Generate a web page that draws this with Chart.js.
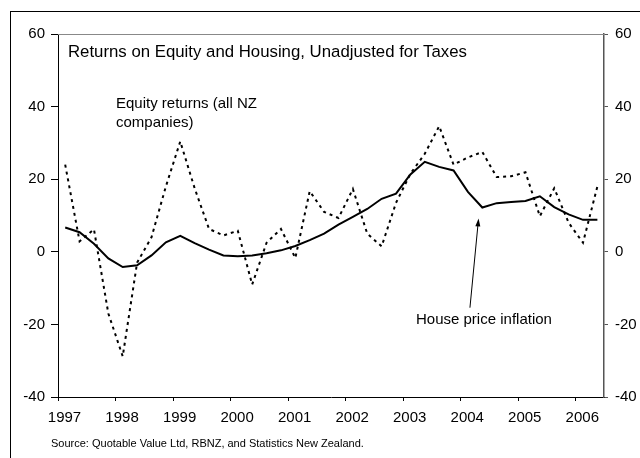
<!DOCTYPE html>
<html>
<head>
<meta charset="utf-8">
<script src="https://cdn.jsdelivr.net/npm/chart.js@4/dist/chart.umd.min.js"></script>
<style>
    body { margin: 0; background: #fff; }
    #wrap { position: relative; width: 640px; height: 458px; overflow: hidden; font-family: "Liberation Sans", Arial, sans-serif; color: #000; }
    #frame { position: absolute; left: 10px; top: 11px; width: 700px; height: 500px; border: 1px solid #000; box-sizing: border-box; }
    canvas { position: absolute; left: 0; top: 0; }
    .txt { position: absolute; line-height: 1; white-space: nowrap; }
</style>
</head>
<body>
<div id="wrap">
    <div id="frame"></div>
    <canvas id="chart" width="640" height="458"></canvas>
    <div class="txt" style="left:68px; top:43.6px; font-size:16.8px;">Returns on Equity and Housing, Unadjusted for Taxes</div>
    <div class="txt" style="left:116px; top:92.8px; font-size:15px; line-height:19px;">Equity returns (all NZ<br>companies)</div>
    <div class="txt" style="left:416px; top:311.2px; font-size:15px;">House price inflation</div>
    <div class="txt" style="left:51px; top:437.8px; font-size:11px;">Source: Quotable Value Ltd, RBNZ, and Statistics New Zealand.</div>
</div>
<script>
// quarters, 1997Q1 .. 2006Q2
const quarters = [
    "1997Q1", "1997Q2", "1997Q3", "1997Q4", "1998Q1", "1998Q2", "1998Q3", "1998Q4",
    "1999Q1", "1999Q2", "1999Q3", "1999Q4", "2000Q1", "2000Q2", "2000Q3", "2000Q4",
    "2001Q1", "2001Q2", "2001Q3", "2001Q4", "2002Q1", "2002Q2", "2002Q3", "2002Q4",
    "2003Q1", "2003Q2", "2003Q3", "2003Q4", "2004Q1", "2004Q2", "2004Q3", "2004Q4",
    "2005Q1", "2005Q2", "2005Q3", "2005Q4", "2006Q1", "2006Q2",
];

// annual % change
const housePrice = [
    6.7, 5.4, 2.2, -1.8, -4.2, -3.7, -1.0, 2.6, 4.4, 2.4, 0.6, -1.0, -1.2, -1.0, -0.4, 0.4,
    1.6, 3.2, 5.0, 7.5, 9.6, 11.8, 14.6, 16.0, 21.3, 24.8, 23.4, 22.4, 16.5, 12.2, 13.4, 13.7,
    14.0, 15.3, 12.3, 10.3, 8.8, 8.8,
];
const equityReturns = [
    24.0, 2.9, 6.2, -17.0, -28.8, -3.0, 4.0, 18.0, 30.4, 17.5, 6.3, 4.5, 5.8, -9.0, 2.5, 6.3,
    -1.7, 16.7, 11.0, 9.3, 17.3, 5.0, 1.5, 13.5, 21.5, 27.0, 34.6, 24.0, 26.0, 27.5, 20.6, 20.8,
    21.9, 9.8, 17.5, 8.0, 2.5, 18.0,
];

const yearTicks = [1997, 1998, 1999, 2000, 2001, 2002, 2003, 2004, 2005, 2006];
const valueTicks = [-40, -20, 0, 20, 40, 60];

// "1997Q1" -> middle of the quarter as a decimal year
const toYear = (q) => Number(q.slice(0, 4)) + (Number(q.slice(5)) - 0.5) / 4;
const points = (vals) => vals.map((v, i) => ({ x: toYear(quarters[i]), y: v }));

const FONT = "'Liberation Sans', Arial, sans-serif";

// grey top edge of the plot and the arrow to the house price line
const extras = {
    id: "extras",
    afterDraw(chart) {
        const { ctx, chartArea, scales } = chart;
        ctx.save();
        ctx.strokeStyle = "#888";
        ctx.lineWidth = 1;
        ctx.beginPath();
        ctx.moveTo(chartArea.left, chartArea.top + 0.5);
        ctx.lineTo(chartArea.right, chartArea.top + 0.5);
        ctx.stroke();

        const x0 = scales.x.getPixelForValue(2004.16), y0 = scales.y.getPixelForValue(-15.4);
        const x1 = scales.x.getPixelForValue(2004.31), y1 = scales.y.getPixelForValue(9.2);
        const ang = Math.atan2(y1 - y0, x1 - x0);
        ctx.strokeStyle = "#000";
        ctx.fillStyle = "#000";
        ctx.beginPath();
        ctx.moveTo(x0, y0);
        ctx.lineTo(x1 - 6 * Math.cos(ang), y1 - 6 * Math.sin(ang));
        ctx.stroke();
        ctx.beginPath();
        ctx.moveTo(x1, y1);
        ctx.lineTo(x1 - 8 * Math.cos(ang) + 2.5 * Math.sin(ang), y1 - 8 * Math.sin(ang) - 2.5 * Math.cos(ang));
        ctx.lineTo(x1 - 8 * Math.cos(ang) - 2.5 * Math.sin(ang), y1 - 8 * Math.sin(ang) + 2.5 * Math.cos(ang));
        ctx.closePath();
        ctx.fill();
        ctx.restore();
    },
};

const yTicksFor = (axis) => { axis.ticks = valueTicks.map((v) => ({ value: v })); };

new Chart(document.getElementById("chart"), {
    type: "line",
    data: {
        datasets: [
            {
                label: "Equity returns (all NZ companies)",
                data: points(equityReturns),
                borderColor: "#000",
                borderWidth: 2,
                borderDash: [3, 4],
                pointRadius: 0,
                tension: 0,
            },
            {
                label: "House price inflation",
                data: points(housePrice),
                borderColor: "#000",
                borderWidth: 2,
                pointRadius: 0,
                tension: 0,
            },
        ],
    },
    options: {
        responsive: false,
        animation: false,
        devicePixelRatio: 1,
        layout: { padding: { top: 34, left: 0, right: 0, bottom: 0 } },
        plugins: { legend: { display: false }, tooltip: { enabled: false } },
        scales: {
            x: {
                type: "linear",
                min: 1997,
                max: 2006.49,
                afterBuildTicks: (axis) => { axis.ticks = yearTicks.map((v) => ({ value: v })); },
                afterFit: (axis) => { axis.height = 61; },
                grid: { drawOnChartArea: false, tickLength: 4, color: "#000" },
                border: { color: "#000", width: 1 },
                ticks: {
                    color: "#000",
                    font: { family: FONT, size: 15 },
                    padding: 8,
                    labelOffset: 6.5,
                    maxRotation: 0,
                    callback: (v) => String(v),
                },
            },
            y: {
                position: "left",
                min: -40,
                max: 60,
                afterBuildTicks: yTicksFor,
                afterFit: (axis) => { axis.width = 58; },
                grid: { drawOnChartArea: false, tickLength: 7, color: "#000" },
                border: { color: "#000", width: 1 },
                ticks: { color: "#000", font: { family: FONT, size: 15 }, padding: 6 },
            },
            y2: {
                position: "right",
                min: -40,
                max: 60,
                afterBuildTicks: yTicksFor,
                afterFit: (axis) => { axis.width = 36; },
                grid: { drawOnChartArea: false, tickLength: 4, color: "#555" },
                border: { color: "#555", width: 1.5 },
                ticks: { color: "#000", font: { family: FONT, size: 15 }, padding: 7 },
            },
        },
    },
    plugins: [extras],
});
</script>
</body>
</html>
